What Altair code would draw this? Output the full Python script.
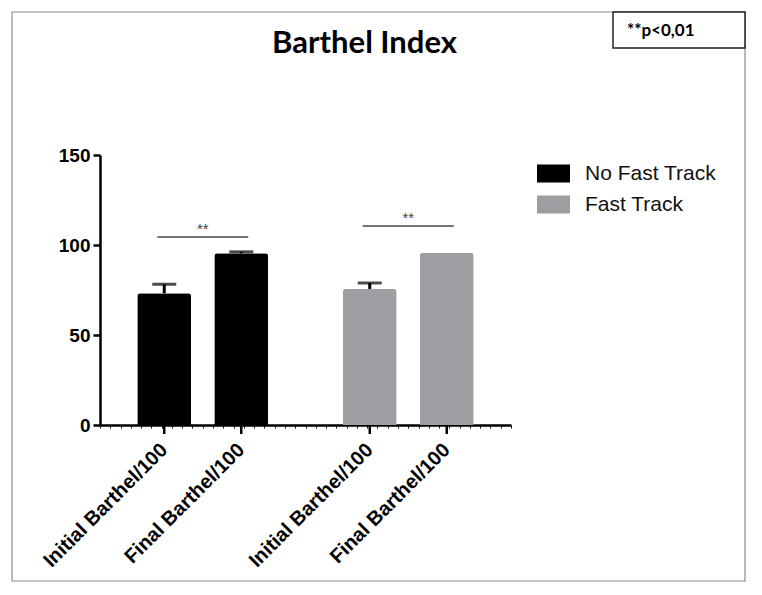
import altair as alt
import pandas as pd

# ---- data ----
groups = ["No Fast Track", "No Fast Track", "Fast Track", "Fast Track"]
measures = ["Initial Barthel/100", "Final Barthel/100", "Initial Barthel/100", "Final Barthel/100"]
means = [73.2, 95.4, 75.6, 95.7]
errors = [5.0, 0.8, 3.3, 0.0]

sig_groups = ["No Fast Track", "Fast Track"]
sig_levels = [104.4, 110.6]
sig_marks = ["**", "**"]

group_order = ["No Fast Track", "Fast Track"]
measure_order = ["Initial Barthel/100", "Final Barthel/100"]
colors = ["#000000", "#9e9ea2"]
y_ticks = [0, 50, 100, 150]

df = pd.DataFrame({"group": groups, "measure": measures, "mean": means, "err": errors})
df["upper"] = df["mean"] + df["err"]
sig_df = pd.DataFrame({"group": sig_groups, "level": sig_levels, "mark": sig_marks})

W, H = 411, 270
FONT = "Liberation Sans"

xg = alt.X("group:N", sort=group_order, axis=None,
           scale=alt.Scale(domain=group_order, paddingInner=0, paddingOuter=0))
xo = alt.XOffset("measure:N", sort=measure_order,
                 scale=alt.Scale(domain=measure_order, paddingInner=0.3, paddingOuter=0.484))
yscale = alt.Scale(domain=[0, 150], nice=False, zero=True)


def Y(field):
    return alt.Y(field, scale=yscale, title=None,
                 axis=alt.Axis(values=y_ticks, grid=False, domainColor="black", domainWidth=2.5,
                               tickColor="black", tickWidth=2.5, tickSize=7, labelFont=FONT,
                               labelFontSize=19, labelFontWeight="bold", labelColor="black",
                               labelPadding=3))


base = alt.Chart(df)

bars = base.mark_bar(cornerRadiusTopLeft=3, cornerRadiusTopRight=3).encode(
    x=xg, xOffset=xo, y=Y("mean:Q"),
    color=alt.Color("group:N", scale=alt.Scale(domain=group_order, range=colors),
                    legend=alt.Legend(title=None, orient="none", legendX=437, legendY=2,
                                      symbolType="M-1,-0.545H1V0.545H-1Z", symbolSize=1089,
                                      symbolStrokeWidth=0, labelFont=FONT, labelFontSize=21,
                                      labelColor="#111", labelOffset=15, rowPadding=4,
                                      padding=0, labelLimit=300)),
)

err_rule = base.transform_filter("datum.err > 0").mark_rule(color="black", strokeWidth=3).encode(
    x=xg, xOffset=xo, y=Y("mean:Q"), y2="upper:Q")
err_cap = base.transform_filter("datum.err > 0").mark_tick(color="black", thickness=3, size=24).encode(
    x=xg, xOffset=xo, y=Y("upper:Q"))

major_ticks = base.mark_rule(color="black", strokeWidth=2.5).encode(
    x=xg, xOffset=xo, y=alt.value(H), y2=alt.value(H + 9))

xlabels = base.mark_text(angle=315, align="right", baseline="middle", dx=-15.5, dy=15.6,
                         font=FONT, fontSize=20, fontWeight="bold", color="black").encode(
    x=xg, xOffset=xo, y=alt.value(H), text="measure:N")

sig_line = alt.Chart(sig_df).mark_tick(color="#3a3a3a", thickness=2, size=91).encode(
    x=xg, y=Y("level:Q"))
sig_text = alt.Chart(sig_df).mark_text(baseline="alphabetic", dy=-3, font=FONT, fontSize=15,
                                       color="#444").encode(
    x=xg, y=Y("level:Q"), text="mark:N")

one = pd.DataFrame({"k": [0]})
minor_axis = alt.Chart(one).mark_point(opacity=0).encode(
    x=alt.X("k:Q", scale=alt.Scale(domain=[0, 40], nice=False),
            axis=alt.Axis(tickCount=40, labels=False, title=None, grid=False, domainColor="black",
                          domainWidth=2.5, tickColor="black", tickWidth=1, tickSize=3)))

frame = alt.Chart(one).mark_rect(fillOpacity=0, stroke="#8a8a8a", strokeWidth=1.2).encode(
    x=alt.value(-88), x2=alt.value(645), y=alt.value(-143), y2=alt.value(426))
pbox = alt.Chart(one).mark_rect(fill="white", stroke="#222", strokeWidth=1.5).encode(
    x=alt.value(513), x2=alt.value(645), y=alt.value(-143), y2=alt.value(-107))
ptext = alt.Chart(pd.DataFrame({"t": ["**p<0,01"]})).mark_text(
    align="left", baseline="middle", font="Lato", fontSize=17, fontWeight="bold", color="black").encode(
    x=alt.value(527), y=alt.value(-124), text="t:N")
title = alt.Chart(pd.DataFrame({"t": ["Barthel Index"]})).mark_text(
    align="center", baseline="alphabetic", font="Lato", fontSize=31, fontWeight="bold", color="black").encode(
    x=alt.value(264.5), y=alt.value(-102), text="t:N")

chart = alt.layer(
    frame, pbox, ptext, title, minor_axis, bars, err_rule, err_cap, major_ticks, xlabels, sig_line, sig_text
).resolve_scale(x="independent").properties(
    width=W, height=H,
    background="white",
    autosize=alt.AutoSizeParams(type="none"),
    padding={"left": 92, "top": 147, "right": 240, "bottom": 162},
).configure_view(strokeWidth=0, stroke="transparent")

chart.save("out.html", embed_options={"renderer": "svg", "actions": False})
